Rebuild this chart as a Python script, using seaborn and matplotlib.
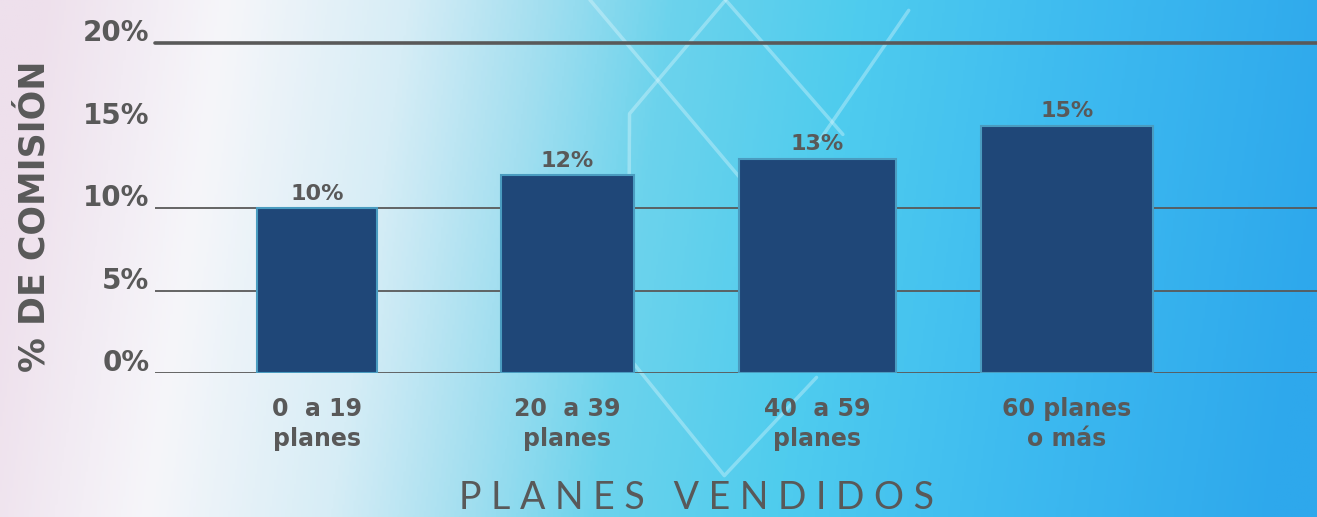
import numpy as np
import pandas as pd
import matplotlib
matplotlib.use("Agg")
import matplotlib.pyplot as plt
import seaborn as sns
from matplotlib.colors import LinearSegmentedColormap
from matplotlib.transforms import ScaledTranslation


# Datos
rangos = ["0  a 19\nplanes", "20  a 39\nplanes", "40  a 59\nplanes", "60 planes\no más"]
comision = [10, 12, 13, 15]
etiquetas_barras = ["10%", "12%", "13%", "15%"]
ticks_y = [0, 5, 10, 15, 20]
etiquetas_y = ["0%", "5%", "10%", "15%", "20%"]

df = pd.DataFrame({"rango": rangos, "comision": comision})

gris = "#595959"
azul_barra = "#1F4778"
borde_barra = "#4A9CC0"
anchos = [0.48, 0.53, 0.63, 0.69]  # las barras se ven cada vez mas anchas

sns.set_style("white")
plt.rcParams["font.family"] = ["DejaVu Sans"]

fig = plt.figure(figsize=(13.17, 5.17), dpi=100)

# Fondo degradado (rosa claro -> blanco -> celeste -> azul)
fondo = fig.add_axes([0, 0, 1, 1])
fondo.axis("off")
cmap_fondo = LinearSegmentedColormap.from_list("fondo", [
    (0.00, "#EEE0EC"),
    (0.14, "#F6F6FA"),
    (0.28, "#D6EDF6"),
    (0.38, "#A4DFF0"),
    (0.48, "#6CD3EC"),
    (0.62, "#4FCCEE"),
    (0.78, "#3FBCF0"),
    (1.00, "#2EA8EC"),
])
xx, yy = np.meshgrid(np.linspace(0, 1, 600), np.linspace(0, 1, 250))
fondo.imshow(np.clip(xx + 0.06 * (1 - yy) - 0.03, 0, 1), cmap=cmap_fondo,
             aspect="auto", extent=[0, 1, 0, 1], origin="lower")
# adorno: lineas claras en diagonal del fondo
adorno = [
    ([0.448, 0.66], [1.0, 0.36]),
    ([0.551, 0.478, 0.477, 0.55, 0.62], [1.0, 0.78, 0.31, 0.08, 0.27]),
    ([0.551, 0.64], [1.0, 0.74]),
    ([0.62, 0.69], [0.72, 0.98]),
]
for xs, ys in adorno:
    fondo.plot(xs, ys, color="#E8FBFF", alpha=0.35, lw=2.5, solid_capstyle="round")
fondo.set_xlim(0, 1)
fondo.set_ylim(0, 1)

# Grafico
ax = fig.add_axes([0.1177, 0.2785, 0.8823, 0.6447])
ax.patch.set_alpha(0)

sns.barplot(data=df, x="rango", y="comision", ax=ax, color=azul_barra,
            edgecolor=borde_barra, linewidth=1.5, saturation=1, width=0.6)

for barra, w in zip(ax.patches, anchos):
    cx = barra.get_x() + barra.get_width() / 2
    barra.set_width(w)
    barra.set_x(cx - w / 2)

ax.set_xlim(-0.65, 4.0)
ax.set_ylim(0, 20.2)

ax.tick_params(axis="both", length=0)
ax.tick_params(axis="y", pad=4)
ax.tick_params(axis="x", pad=17)

ax.set_yticks(ticks_y)
ax.set_yticklabels(etiquetas_y, fontsize=20, fontweight="bold", color=gris)
desplazar = ScaledTranslation(0, 0.13, fig.dpi_scale_trans)
for lbl in ax.get_yticklabels():
    lbl.set_transform(lbl.get_transform() + desplazar)

ax.set_xticks(range(len(rangos)))
ax.set_xticklabels(rangos, fontsize=17, fontweight="bold", color=gris, linespacing=1.35)

# Lineas de division (sin la de 15%)
ax.set_axisbelow(True)
ax.yaxis.grid(True, color=gris, linewidth=1.3)
lineas = ax.yaxis.get_gridlines()
lineas[3].set_visible(False)
lineas[4].set_linewidth(2.6)
lineas[4].set_clip_on(False)

sns.despine(ax=ax, left=True, bottom=True)

ax.bar_label(ax.containers[0], labels=etiquetas_barras, padding=3,
             fontsize=16, fontweight="bold", color=gris)

ax.set_xlabel("P L A N E S   V E N D I D O S", fontsize=27, color=gris,
              family=["Lato", "DejaVu Sans"], fontweight="normal", va="center")
ax.xaxis.set_label_coords(0.4656, -0.376)

ax.set_ylabel("% DE COMISIÓN", fontsize=25, fontweight="bold", color=gris, va="center")
ax.yaxis.set_label_coords(-0.104, 0.47)

plt.savefig("out.png", dpi=100)
